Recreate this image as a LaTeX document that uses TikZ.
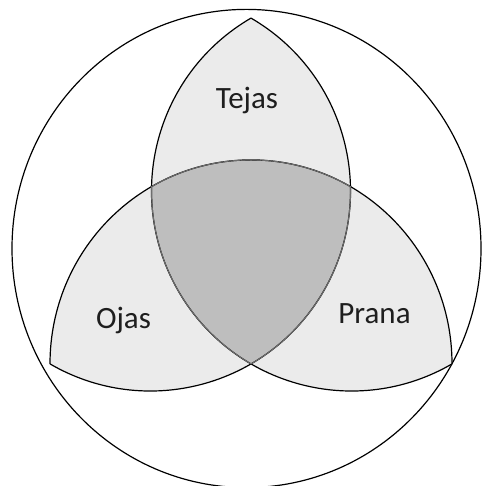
\documentclass[tikz,border=0pt]{standalone}
\usepackage{fontspec}
\setmainfont{Carlito}
\definecolor{lightfill}{HTML}{EBEBEB}
\definecolor{darkfill}{HTML}{BEBEBE}
\definecolor{darkedge}{HTML}{6E6E6E}
\definecolor{labeltext}{HTML}{1E1E1E}
\tikzset{
  outline/.style={draw=black, line width=1.2pt},
  inneredge/.style={draw=darkedge, line width=1.0pt},
  lbl/.style={anchor=base, inner sep=0pt, text=labeltext, font=\fontsize{31bp}{37bp}\selectfont}
}
\begin{document}
\begin{tikzpicture}[x=1bp,y=1bp]
\useasboundingbox (0,0) rectangle (482,486);
% key points
\coordinate (T) at (251,467.9);
\coordinate (L) at (50,122.1);
\coordinate (R) at (452,122.1);
\coordinate (M) at (251,122.1);
\coordinate (P1) at (151.55,299.36);
\coordinate (P2) at (350.45,299.36);
\coordinate (O) at (246.5,237.5);
% outer circle
\draw[outline] (O) ellipse [x radius=234.5, y radius=239.1];
% light lobes
\fill[lightfill] (T) arc[start angle=120.17, end angle=178.75, radius=200]
  arc[start angle=119.66, end angle=60.34, x radius=201, y radius=204]
  arc[start angle=1.25, end angle=59.83, radius=200] -- cycle;
\fill[lightfill] (L) arc[start angle=180, end angle=119.66, x radius=201, y radius=204]
  arc[start angle=178.75, end angle=239.83, radius=200]
  arc[start angle=-59.83, end angle=-120.17, radius=200] -- cycle;
\fill[lightfill] (R) arc[start angle=0, end angle=60.34, x radius=201, y radius=204]
  arc[start angle=1.25, end angle=-59.83, radius=200]
  arc[start angle=239.83, end angle=300.17, radius=200] -- cycle;
% central region
\fill[darkfill] (P1) arc[start angle=119.66, end angle=60.34, x radius=201, y radius=204]
  arc[start angle=1.25, end angle=-59.83, radius=200]
  arc[start angle=239.83, end angle=178.75, radius=200] -- cycle;
% the three arcs
\draw[outline] (L) arc[start angle=180, end angle=0, x radius=201, y radius=204];
\draw[outline] (T) arc[start angle=120.17, end angle=300.17, radius=200];
\draw[outline] (T) arc[start angle=59.83, end angle=-120.17, radius=200];
% edges of the central region
\draw[inneredge] (P1) arc[start angle=119.66, end angle=60.34, x radius=201, y radius=204]
  arc[start angle=1.25, end angle=-59.83, radius=200]
  arc[start angle=239.83, end angle=178.75, radius=200] -- cycle;
% labels
\node[lbl] (tejas) at (247,377.7) {Tejas};
\node[lbl] (ojas) at (123.5,157.7) {Ojas};
\node[lbl] (prana) at (374.5,162.7) {Prana};
\end{tikzpicture}
\end{document}
